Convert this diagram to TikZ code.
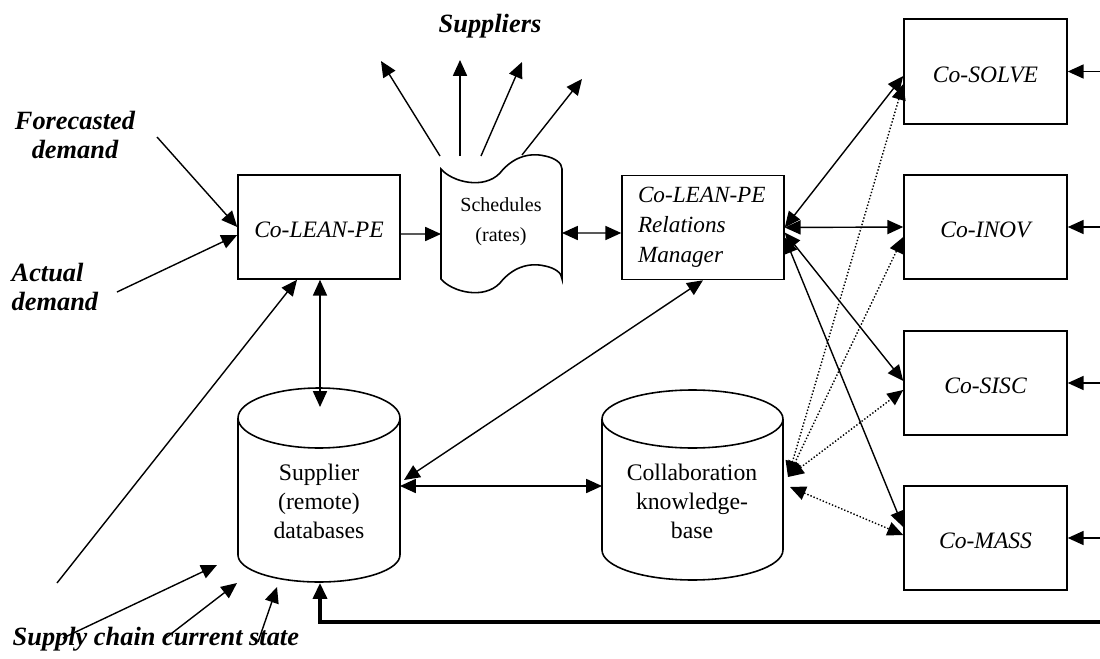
\documentclass[tikz,border=0pt]{standalone}
\usepackage{fontspec}
\setmainfont{Liberation Serif}
\usetikzlibrary{arrows.meta,calc}

\begin{document}
\begin{tikzpicture}[x=0.02cm,y=-0.02cm,
  line width=0.8pt,
  >={Triangle[length=9pt,width=8pt]},
  box/.style={draw, line width=0.9pt, minimum width=3.24cm, minimum height=2.08cm,
    inner sep=0pt, font=\fontsize{13.4}{17}\selectfont\itshape},
  sidebox/.style={box, minimum width=3.26cm, minimum height=2.09cm,
    text height=12pt, text depth=0pt},
  shapeline/.style={line width=0.9pt},
  lbl/.style={font=\fontsize{15}{16}\selectfont\bfseries\itshape, inner sep=0pt},
  dbtext/.style={font=\fontsize{13.5}{16.5}\selectfont, align=center, inner sep=0pt},
  hint/.style={line width=0.8pt, dash pattern=on 0.8pt off 1.1pt},
  feed/.style={line width=1.8pt}
]
\useasboundingbox (0,0) rectangle (1100,659);

% ---- process boxes ----
\node[box, text height=12pt, text depth=0pt] (lean) at (319,227) {Co-LEAN-PE};
\node[box, align=left, text width=2.6cm, font=\fontsize{13.2}{17}\selectfont\itshape]
  (relm) at (703,227.5) {Co-LEAN-PE\\Relations\\Manager};
\node[sidebox] (solve) at (985.5,71.5) {Co-SOLVE};
\node[sidebox] (inov)  at (985.5,227)  {Co-INOV};
\node[sidebox] (sisc)  at (985.5,383)  {Co-SISC};
\node[sidebox] (mass)  at (985.5,538)  {Co-MASS};

% ---- schedules document (tape) ----
\draw[shapeline] (441,169) .. controls (452,182) and (484,190) .. (500,173)
  .. controls (512,158) and (528,152) .. (545,156)
  .. controls (555,158) and (562,163) .. (562,169) -- (562,279)
  .. controls (562,273) and (555,268) .. (545,266)
  .. controls (528,262) and (512,268) .. (500,283)
  .. controls (484,300) and (452,292) .. (441,279) -- cycle;
\node[dbtext, font=\fontsize{11.4}{17}\selectfont] (sched) at (501,222) {Schedules\\(rates)};

% ---- supplier databases (cylinder) ----
\draw[shapeline] (238,418) -- (238,555) arc[start angle=180, end angle=360, x radius=1.62cm, y radius=0.54cm] -- (400,418);
\draw[shapeline, fill=white] (319,418) ellipse[x radius=1.62cm, y radius=0.6cm];
\node[dbtext] (sdb) at (319,501) {Supplier\\(remote)\\databases};

% ---- collaboration knowledge base (cylinder) ----
\draw[shapeline] (602,419) -- (602,550) arc[start angle=180, end angle=360, x radius=1.81cm, y radius=0.6cm] -- (783,419);
\draw[shapeline, fill=white] (692.5,419) ellipse[x radius=1.81cm, y radius=0.58cm];
\node[dbtext] (ckb) at (692,501) {Collaboration\\knowledge-\\base};

% ---- free labels ----
\node[lbl, anchor=base] (suppliers) at (490,32) {Suppliers};
\node[lbl, align=center, anchor=base] (fcd) at (75,158) {Forecasted\\demand};
\node[lbl, align=left, anchor=base west] (acd) at (11,310) {Actual\\demand};
\node[lbl, anchor=base west] (scs) at (12,645) {Supply chain current state};

% ---- ports ----
\coordinate (fc-from) at (157,137);
\coordinate (ac-from) at (117,292);
\coordinate (sc-from) at (57,583);
\coordinate (sdb-top) at (320,407);
\coordinate (sdb-east) at (400,486);
\coordinate (sdb-ne) at (404,480);
\coordinate (sdb-bot) at (320,583);
\coordinate (ckb-west) at (602,486);
\coordinate (ckb-e1) at (788,477);
\coordinate (ckb-e2) at (790,487);
\coordinate (sched-w) at (441,234);
\coordinate (sched-e) at (562,233);
\coordinate (t1) at (440,156);
\coordinate (u1) at (381,61);
\coordinate (t2) at (460,156);
\coordinate (u2) at (460,60);
\coordinate (t3) at (481,156);
\coordinate (u3) at (522,62);
\coordinate (t4) at (522,155);
\coordinate (u4) at (582,79);
\coordinate (in1) at (1100,71.5);
\coordinate (in2) at (1100,227);
\coordinate (in3) at (1100,383);
\coordinate (in4) at (1100,538);
\coordinate (fb) at (1100,622);
\coordinate (fb-turn) at (320,622);
\coordinate (a1) at (63,638);
\coordinate (b1) at (217,565);
\coordinate (a2) at (163,640);
\coordinate (b2) at (237,583);
\coordinate (a3) at (258,642);
\coordinate (b3) at (277,587);

% ---- demand inputs ----
\draw[->] (fc-from) -- (lean.west);
\draw[->] (ac-from) -- ([yshift=-0.16cm]lean.west);
\draw[->] (sc-from) -- ([xshift=-0.44cm]lean.south);

% ---- main flow ----
\draw[<->] ([xshift=0.02cm]lean.south) -- (sdb-top);
\draw[->] ([yshift=-0.14cm]lean.east) -- (sched-w);
\draw[<->] (sched-e) -- ([yshift=-0.11cm]relm.west);
\draw[<->] (relm.south) -- (sdb-ne);
\draw[<->] (sdb-east) -- (ckb-west);

% ---- orders to suppliers ----
\draw[->] (t1) -- (u1);
\draw[->] (t2) -- (u2);
\draw[->] (t3) -- (u3);
\draw[->] (t4) -- (u4);

% ---- relations manager to collaboration services ----
\draw[<->] (relm.east) -- ([yshift=-0.09cm]solve.west);
\draw[<->] (relm.east) -- (inov.west);
\draw[<->] ([yshift=-0.1cm]relm.east) -- ([yshift=0.04cm]sisc.west);
\draw[<->] ([yshift=-0.2cm]relm.east) -- ([yshift=0.22cm]mass.west);

% ---- knowledge base links ----
\draw[hint, <->] (ckb-e1) -- ([yshift=-0.25cm]solve.west);
\draw[hint, <->] (ckb-e1) -- ([yshift=-0.2cm]inov.west);
\draw[hint, <->] (ckb-e1) -- ([yshift=-0.14cm]sisc.west);
\draw[hint, <->] (ckb-e2) -- ([yshift=0.06cm]mass.west);

% ---- inputs from the right ----
\draw[->] (in1) -- (solve.east);
\draw[->] (in2) -- (inov.east);
\draw[->] (in3) -- (sisc.east);
\draw[->] (in4) -- (mass.east);

% ---- feedback to the databases ----
\draw[feed, ->] (fb) -- (fb-turn) -- (sdb-bot);

% ---- supply chain state ----
\draw[->] (a1) -- (b1);
\draw[->] (a2) -- (b2);
\draw[->] (a3) -- (b3);
\end{tikzpicture}
\end{document}
